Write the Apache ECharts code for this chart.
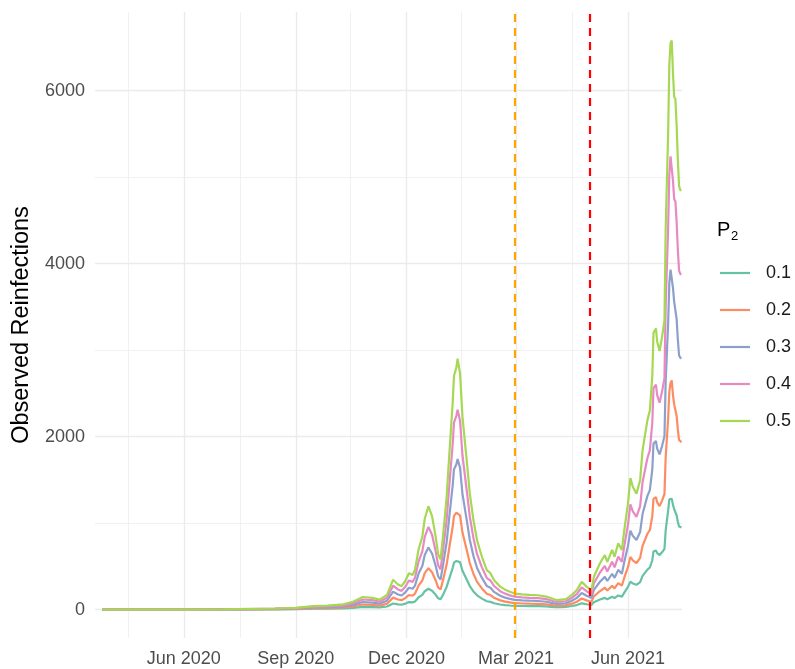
<!DOCTYPE html>
<html><head><meta charset="utf-8">
<script src="https://cdn.jsdelivr.net/npm/echarts@6/dist/echarts.min.js"></script>
<style>html,body{margin:0;padding:0;background:#fff}#c{width:795px;height:669px}</style>
</head><body><div id="c"></div>
<script>
// ---- data ----
const dates = ['2020-03-26','2020-05-04','2020-06-14','2020-07-04','2020-07-25','2020-08-15','2020-09-01','2020-09-15','2020-09-27','2020-10-10',
'2020-10-18','2020-10-26','2020-11-03','2020-11-09','2020-11-15','2020-11-20','2020-11-24','2020-11-27','2020-11-30','2020-12-03',
'2020-12-06','2020-12-08','2020-12-11','2020-12-14','2020-12-16','2020-12-19','2020-12-22','2020-12-25','2020-12-27','2020-12-29',
'2020-12-31','2021-01-03','2021-01-05','2021-01-08','2021-01-09','2021-01-11','2021-01-12','2021-01-14','2021-01-16','2021-01-20',
'2021-01-22','2021-01-25','2021-01-28','2021-02-01','2021-02-05','2021-02-08','2021-02-11','2021-02-16','2021-02-20','2021-02-24',
'2021-02-28','2021-03-06','2021-03-12','2021-03-19','2021-03-26','2021-03-30','2021-04-03','2021-04-07','2021-04-11','2021-04-16',
'2021-04-20','2021-04-24','2021-04-28','2021-05-02','2021-05-04','2021-05-09','2021-05-13','2021-05-15','2021-05-19','2021-05-21',
'2021-05-24','2021-05-27','2021-05-29','2021-06-01','2021-06-03','2021-06-05','2021-06-08','2021-06-11','2021-06-13','2021-06-17',
'2021-06-19','2021-06-21','2021-06-22','2021-06-24','2021-06-25','2021-06-27','2021-06-29','2021-07-01','2021-07-02','2021-07-04',
'2021-07-05','2021-07-06','2021-07-07','2021-07-08','2021-07-09','2021-07-10','2021-07-11','2021-07-12','2021-07-13','2021-07-14','2021-07-15'];

const p01 = [0,0,0,1,2,3,5,9,10,13,19,30,29,25,35,70,60,56,68,86,82,94,142,170,212,240,218,170,130,118,172,262,352,482,542,562,580,548,448,332,272,210,164,126,96,89,73,58,52,47,43,41,40,39,36,32,28,29,31,41,52,72,61,53,84,116,135,119,148,132,163,149,196,262,322,302,286,318,390,462,486,570,672,684,652,630,662,702,915,1140,1275,1275,1280,1210,1160,1150,1090,1015,960,950,950];
const p02 = [0,0,0,1,3,5,8,16,18,24,36,58,54,46,68,138,116,108,132,168,160,184,280,336,420,478,432,336,256,232,340,520,700,960,1080,1120,1140,1090,890,660,538,414,320,244,182,168,136,106,92,82,74,70,68,66,60,52,44,46,48,68,90,128,106,90,152,214,252,220,276,244,306,276,368,490,608,568,536,598,736,876,920,1080,1280,1300,1240,1196,1260,1336,1760,2200,2520,2620,2650,2480,2372,2360,2240,2080,1960,1940,1935];
const p03 = [0,0,0,2,5,7,12,24,27,36,54,87,81,69,102,207,174,162,198,252,240,276,420,504,630,717,648,504,384,348,510,780,1050,1440,1620,1680,1740,1638,1338,990,807,621,480,366,273,252,204,159,138,123,111,105,102,99,90,78,66,69,72,102,135,192,159,135,228,321,378,330,414,366,459,414,552,735,912,852,804,897,1104,1314,1380,1620,1920,1950,1860,1794,1890,2004,2640,3300,3780,3930,3940,3720,3558,3540,3360,3120,2940,2910,2905];
const p04 = [0,0,0,2,6,10,16,32,36,48,72,116,108,92,136,276,232,216,264,336,320,368,560,672,840,956,864,672,512,464,680,1040,1400,1920,2160,2240,2310,2184,1784,1320,1076,828,640,488,364,336,272,212,184,164,148,140,136,132,120,104,88,92,96,136,180,256,212,180,304,428,504,440,552,488,612,552,736,980,1216,1136,1072,1196,1472,1752,1840,2160,2560,2600,2480,2392,2520,2672,3520,4400,5040,5240,5250,4960,4744,4720,4480,4160,3920,3880,3875];
const p05 = [0,0,0,3,8,12,20,40,45,60,90,145,135,115,170,345,290,270,330,420,400,460,700,840,1050,1195,1080,840,640,580,850,1300,1750,2400,2700,2800,2900,2730,2230,1650,1345,1035,800,610,455,420,340,265,230,205,185,175,170,165,150,130,110,115,120,170,225,320,265,225,380,535,630,550,690,610,765,690,920,1225,1520,1420,1340,1495,1840,2190,2300,2700,3200,3250,3100,2990,3150,3340,4400,5500,6300,6550,6580,6200,5930,5900,5600,5200,4900,4850,4850];

const seriesNames = ['0.1','0.2','0.3','0.4','0.5'];
const seriesValues = [p01, p02, p03, p04, p05];
const xMajorTicks = ['2020-06-01','2020-09-01','2020-12-01','2021-03-01','2021-06-01'];
const xMinorTicks = ['2020-04-16','2020-07-17','2020-10-16','2021-01-15','2021-04-16'];
const yMajorTicks = [0, 2000, 4000, 6000];
const yMinorTicks = [1000, 3000, 5000];
const vlineDates = ['2021-02-28', '2021-05-01'];
const xRange = ['2020-03-20', '2021-07-15 10:00'];
const yRange = [-329, 6909];

// ---- styles ----
const colors = ['#66C2A5','#FC8D62','#8DA0CB','#E78AC3','#A6D854'];
const vlineColors = ['#FFA500', '#FF0000'];
const FONT = '"Liberation Sans", Arial, sans-serif';
const MONTHS = ['Jan','Feb','Mar','Apr','May','Jun','Jul','Aug','Sep','Oct','Nov','Dec'];
const ts = s => echarts.time.parse(s).getTime();

const gridLines = [
  ...yMajorTicks.map(v => ({yAxis: v, lineStyle: {color: '#EBEBEB', width: 1.4, type: 'solid'}})),
  ...yMinorTicks.map(v => ({yAxis: v, lineStyle: {color: '#EBEBEB', width: 0.7, type: 'solid'}})),
  ...xMajorTicks.map(d => ({xAxis: ts(d), lineStyle: {color: '#EBEBEB', width: 1.4, type: 'solid'}})),
  ...xMinorTicks.map(d => ({xAxis: ts(d), lineStyle: {color: '#EBEBEB', width: 0.7, type: 'solid'}}))
];
const vLines = vlineDates.map((d, i) => ({xAxis: ts(d), lineStyle: {color: vlineColors[i], width: 2.2, type: [8, 6]}}));

const series = seriesNames.map((name, k) => {
  const s = {
    name, type: 'line', symbol: 'none', showSymbol: false, z: 2,
    color: colors[k],
    lineStyle: {width: 2.2, color: colors[k]},
    data: dates.map((d, i) => [ts(d), seriesValues[k][i]])
  };
  if (k === 0) s.markLine = {silent: true, z: 1, symbol: ['none','none'], label: {show: false}, animation: false, data: gridLines};
  if (k === 4) s.markLine = {silent: true, z: 10, symbol: ['none','none'], label: {show: false}, animation: false, data: vLines};
  return s;
});

const chart = echarts.init(document.getElementById('c'));
chart.setOption({
  animation: false,
  backgroundColor: '#fff',
  grid: {left: 95, top: 12, width: 587, height: 626, containLabel: false},
  xAxis: {
    type: 'value', min: ts(xRange[0]), max: ts(xRange[1]), scale: true,
    axisLine: {show: false}, axisTick: {show: false}, splitLine: {show: false},
    axisLabel: {
      customValues: xMajorTicks.map(ts), hideOverlap: false,
      formatter: v => { const d = new Date(v); return MONTHS[d.getMonth()] + ' ' + d.getFullYear(); },
      fontSize: 18, color: '#4D4D4D', fontFamily: FONT, margin: 12
    }
  },
  yAxis: {
    type: 'value', min: yRange[0], max: yRange[1],
    axisLine: {show: false}, axisTick: {show: false}, splitLine: {show: false},
    axisLabel: {customValues: yMajorTicks, formatter: v => String(v), fontSize: 18, color: '#4D4D4D', fontFamily: FONT, margin: 10}
  },
  legend: {
    orient: 'vertical', left: 720, top: 263, padding: 0, itemWidth: 30, itemHeight: 2.2, itemGap: 17,
    icon: 'rect',
    data: seriesNames,
    textStyle: {fontSize: 18, color: '#1A1A1A', fontFamily: FONT, lineHeight: 20, padding: [0, 0, 0, 11]}
  },
  graphic: [
    {type: 'text', x: 22, y: 325, rotation: Math.PI / 2,
     style: {text: 'Observed Reinfections', fontSize: 23.5, fontFamily: FONT, fill: '#000', align: 'center', verticalAlign: 'middle'}},
    {type: 'text', x: 717, y: 220, style: {text: 'P', fontSize: 20, fontFamily: FONT, fill: '#000'}},
    {type: 'text', x: 731, y: 230, style: {text: '2', fontSize: 13, fontFamily: FONT, fill: '#000'}}
  ],
  series
});
</script></body></html>
